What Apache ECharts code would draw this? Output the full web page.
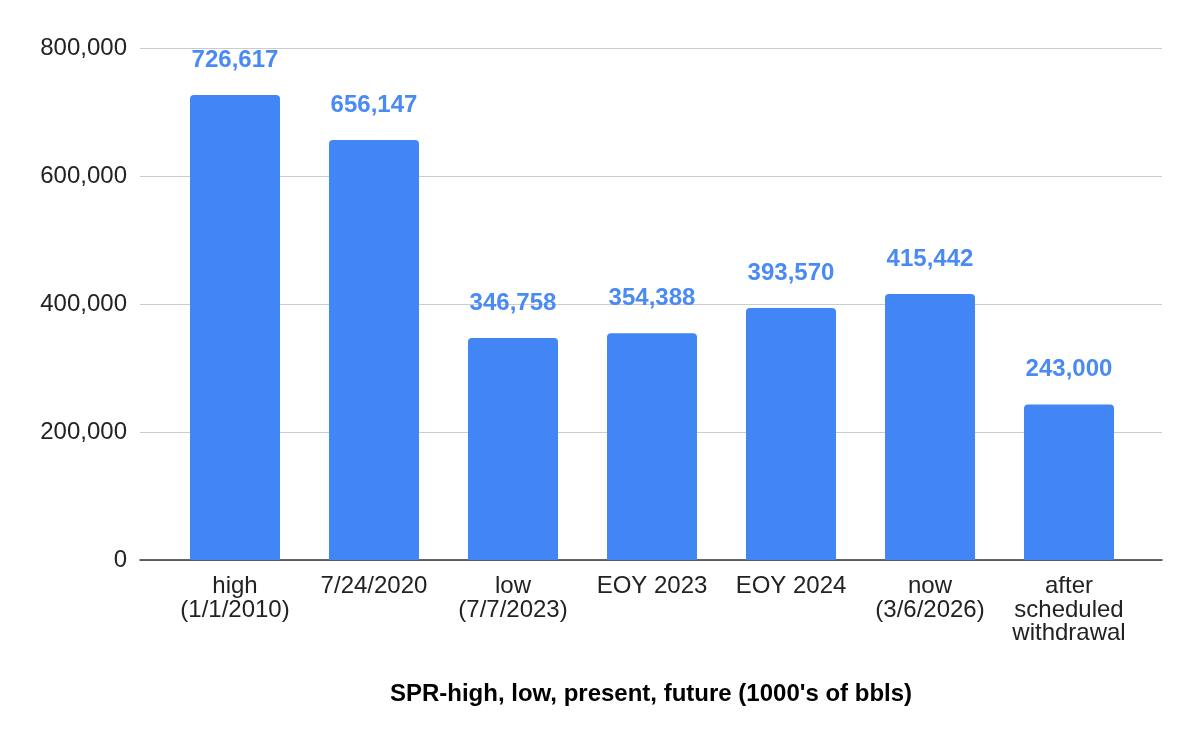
<!DOCTYPE html>
<html><head><meta charset="utf-8">
<script src="https://cdn.jsdelivr.net/npm/echarts@6/dist/echarts.min.js"></script>
<style>html,body{margin:0;padding:0;background:#fff}#c{width:1200px;height:742px}</style>
</head><body><div id="c"></div>
<script>
const categories = ["high\n(1/1/2010)", "7/24/2020", "low\n(7/7/2023)", "EOY 2023", "EOY 2024", "now\n(3/6/2026)", "after\nscheduled\nwithdrawal"];
const values = [726617, 656147, 346758, 354388, 393570, 415442, 243000];
const yTicks = [0, 200000, 400000, 600000, 800000];
const xTitle = "SPR-high, low, present, future (1000's of bbls)";

const font = "'Liberation Sans', Arial, sans-serif";
const chart = echarts.init(document.getElementById('c'), null, {renderer: 'canvas'});
const fmt = v => v.toLocaleString('en-US');
chart.setOption({
  animation: false,
  grid: [
    {left: 140, right: 38, top: 48, bottom: 182},
    {left: 165.5, right: 61.5, top: 48, bottom: 182}
  ],
  xAxis: [
    {type: 'category', gridIndex: 0, data: [''], axisTick: {show: false}, axisLabel: {show: false},
     axisLine: {lineStyle: {color: '#333', width: 1.5}},
     name: xTitle, nameLocation: 'middle', nameGap: 122,
     nameTextStyle: {fontFamily: font, fontSize: 24, fontWeight: 'bold', color: '#000'}},
    {type: 'category', gridIndex: 1, data: categories, axisTick: {show: false}, axisLine: {show: false},
     axisLabel: {fontFamily: font, fontSize: 24, color: '#222', lineHeight: 23.5, margin: 15, interval: 0}}
  ],
  yAxis: [
    {type: 'value', gridIndex: 0, min: 0, max: yTicks[yTicks.length-1], interval: yTicks[1]-yTicks[0],
     axisLine: {show: false}, axisTick: {show: false},
     axisLabel: {fontFamily: font, fontSize: 24, color: '#222', margin: 13, formatter: v => fmt(v)},
     splitLine: {lineStyle: {color: '#ccc', width: 1.2}}},
    {type: 'value', gridIndex: 1, min: 0, max: yTicks[yTicks.length-1], show: false, splitLine: {show: false}}
  ],
  series: [{
    type: 'bar', xAxisIndex: 1, yAxisIndex: 1, data: values, barWidth: 90,
    itemStyle: {color: '#4285F4', borderRadius: [4, 4, 0, 0]},
    label: {show: true, position: 'top', distance: 23, fontFamily: font, fontSize: 24, fontWeight: 'bold',
      color: '#4a8af4', formatter: p => fmt(p.value)}
  }]
});
</script></body></html>
